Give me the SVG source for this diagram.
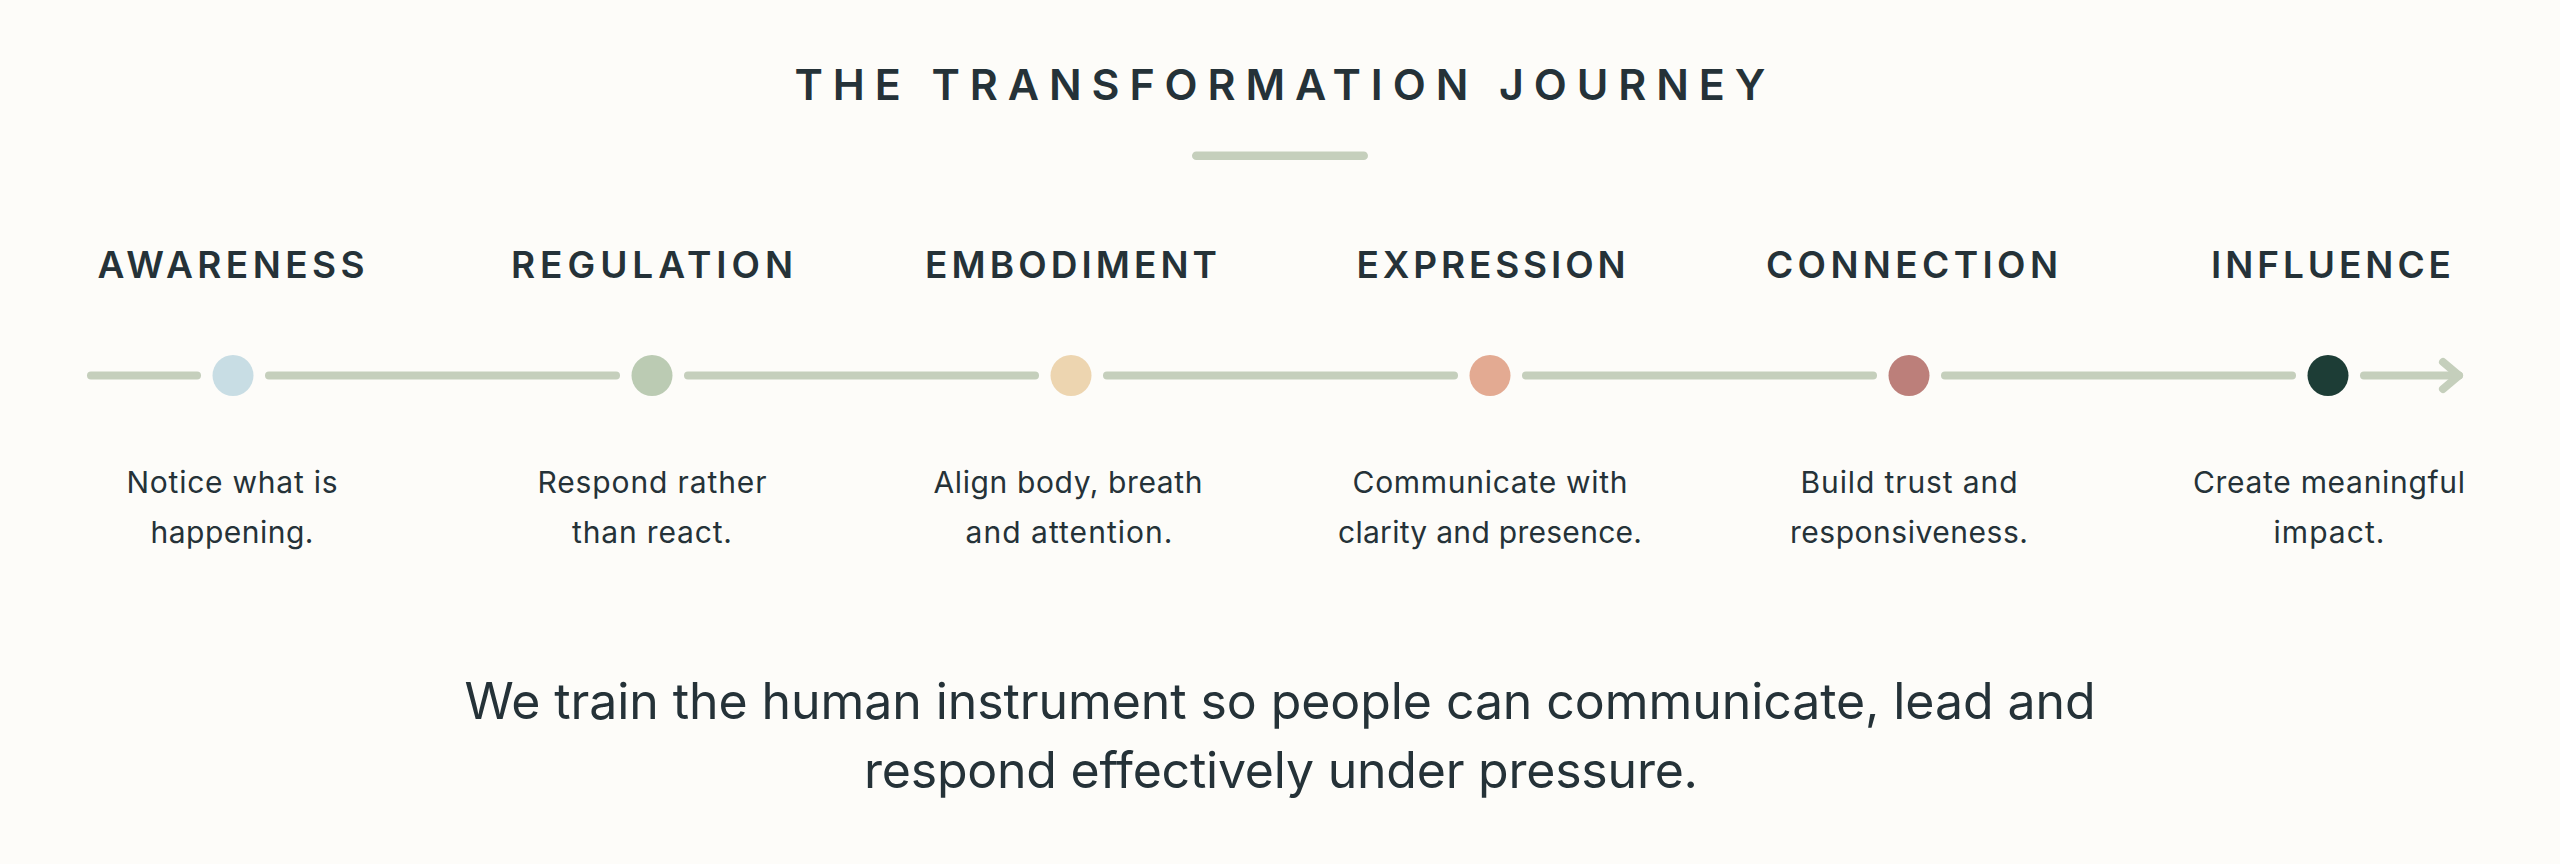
<svg xmlns="http://www.w3.org/2000/svg" width="2560" height="864" viewBox="0 0 2560 864">
  <style>
    .title { font-family: Inter, "Liberation Sans", sans-serif; font-size: 43px; font-weight: 600; fill: #253238; }
    .stage { font-family: Inter, "Liberation Sans", sans-serif; font-size: 37px; font-weight: 600; fill: #253238; }
    .desc { font-family: Inter, "Liberation Sans", sans-serif; font-size: 30px; font-weight: 400; fill: #253238; }
    .tag { font-family: Inter, "Liberation Sans", sans-serif; font-size: 50px; font-weight: 400; fill: #253238; }
    .seg { stroke: #C5CFBC; stroke-width: 8; stroke-linecap: round; stroke-linejoin: round; fill: none; }
  </style>
  <rect x="0" y="0" width="2560" height="864" fill="#FDFCF9"/>

  <g id="header">
    <text class="title" x="1280" y="100" text-anchor="middle" textLength="971" lengthAdjust="spacing">THE TRANSFORMATION JOURNEY</text>
    <rect x="1192" y="151.5" width="176" height="8.5" rx="4.25" fill="#C5CFBC"/>
  </g>

  <g id="connectors">
    <line class="seg" x1="91" y1="375.5" x2="197" y2="375.5"/>
    <line class="seg" x1="269" y1="375.5" x2="616" y2="375.5"/>
    <line class="seg" x1="688" y1="375.5" x2="1035" y2="375.5"/>
    <line class="seg" x1="1107" y1="375.5" x2="1454" y2="375.5"/>
    <line class="seg" x1="1526" y1="375.5" x2="1873" y2="375.5"/>
    <line class="seg" x1="1945" y1="375.5" x2="2292" y2="375.5"/>
    <line class="seg" x1="2364" y1="375.5" x2="2459" y2="375.5"/>
    <polyline class="seg" points="2443,362 2459,375.5 2443,389"/>
  </g>

  <g id="awareness">
    <text class="stage" x="231" y="278" text-anchor="middle" textLength="267" lengthAdjust="spacing">AWARENESS</text>
    <circle cx="233" cy="375.5" r="20.5" fill="#C8DDE4"/>
    <text class="desc" x="232" y="493" text-anchor="middle" textLength="211" lengthAdjust="spacing">Notice what is</text>
    <text class="desc" x="232" y="543" text-anchor="middle" textLength="163" lengthAdjust="spacing">happening.</text>
  </g>

  <g id="regulation">
    <text class="stage" x="652" y="278" text-anchor="middle" textLength="282" lengthAdjust="spacing">REGULATION</text>
    <circle cx="652" cy="375.5" r="20.5" fill="#BBCBB3"/>
    <text class="desc" x="652" y="493" text-anchor="middle" textLength="229" lengthAdjust="spacing">Respond rather</text>
    <text class="desc" x="652" y="543" text-anchor="middle" textLength="160" lengthAdjust="spacing">than react.</text>
  </g>

  <g id="embodiment">
    <text class="stage" x="1071" y="278" text-anchor="middle" textLength="292" lengthAdjust="spacing">EMBODIMENT</text>
    <circle cx="1071" cy="375.5" r="20.5" fill="#EDD5B0"/>
    <text class="desc" x="1068" y="493" text-anchor="middle" textLength="269" lengthAdjust="spacing">Align body, breath</text>
    <text class="desc" x="1069" y="543" text-anchor="middle" textLength="207" lengthAdjust="spacing">and attention.</text>
  </g>

  <g id="expression">
    <text class="stage" x="1491" y="278" text-anchor="middle" textLength="269" lengthAdjust="spacing">EXPRESSION</text>
    <circle cx="1490" cy="375.5" r="20.5" fill="#E3AA92"/>
    <text class="desc" x="1490" y="493" text-anchor="middle" textLength="275" lengthAdjust="spacing">Communicate with</text>
    <text class="desc" x="1490" y="543" text-anchor="middle" textLength="304" lengthAdjust="spacing">clarity and presence.</text>
  </g>

  <g id="connection">
    <text class="stage" x="1912" y="278" text-anchor="middle" textLength="292" lengthAdjust="spacing">CONNECTION</text>
    <circle cx="1909" cy="375.5" r="20.5" fill="#BC7F7A"/>
    <text class="desc" x="1909" y="493" text-anchor="middle" textLength="217" lengthAdjust="spacing">Build trust and</text>
    <text class="desc" x="1909" y="543" text-anchor="middle" textLength="238" lengthAdjust="spacing">responsiveness.</text>
  </g>

  <g id="influence">
    <text class="stage" x="2331" y="278" text-anchor="middle" textLength="240" lengthAdjust="spacing">INFLUENCE</text>
    <circle cx="2328" cy="375.5" r="20.5" fill="#1D3D36"/>
    <text class="desc" x="2329" y="493" text-anchor="middle" textLength="272" lengthAdjust="spacing">Create meaningful</text>
    <text class="desc" x="2329" y="543" text-anchor="middle" textLength="111" lengthAdjust="spacing">impact.</text>
  </g>

  <g id="tagline">
    <text class="tag" x="1280" y="719" text-anchor="middle" textLength="1631" lengthAdjust="spacing">We train the human instrument so people can communicate, lead and</text>
    <text class="tag" x="1281" y="788" text-anchor="middle" textLength="834" lengthAdjust="spacing">respond effectively under pressure.</text>
  </g>
</svg>
